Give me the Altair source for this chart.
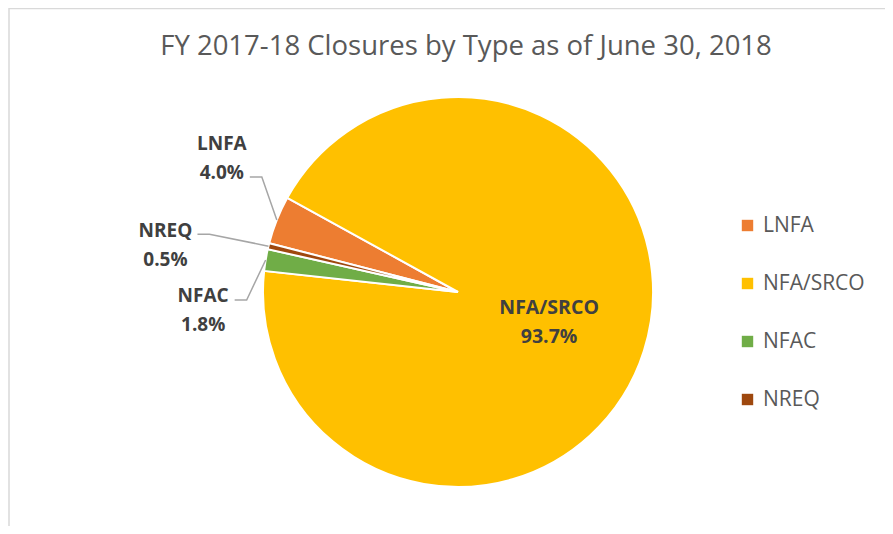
import math
import altair as alt
import pandas as pd

# ---- data ----
categories = ["LNFA", "NFA/SRCO", "NFAC", "NREQ"]
shares = [4.0, 93.7, 1.8, 0.5]
colors = ["#ED7D31", "#FFC000", "#70AD47", "#9E480E"]
title_text = "FY 2017-18 Closures by Type as of June 30, 2018"

# ---- layout ----
W, H = 877, 518
CX, CY, R = 450, 284, 195
START_DEG = 284.5
TEXT_SHIFT = -11
# outside-label leader geometry (elbow offset from arc point, label offset from line start)
outside = {
    "LNFA": {"elbow": (-15, -43), "label": (-28, -21.5)},
    "NREQ": {"elbow": (-59, -12), "label": (-32, 7.5)},
    "NFAC": {"elbow": (-19, 40), "label": (-31.5, 7.5)},
}
inside_r = 0.49

df = pd.DataFrame({"cat": categories, "share": shares, "idx": range(len(categories))})
df["label"] = [f"{c}\n{v:.1f}%" for c, v in zip(categories, shares)]

total = sum(shares)
cum = 0.0
mids = {}
for c, v in zip(categories, shares):
    mids[c] = math.radians(START_DEG + (cum + v / 2) / total * 360)
    cum += v

line_rows, lab_rows, in_rows = [], [], []
for c, lab in zip(categories, df["label"]):
    a = mids[c]
    if c in outside:
        ex, ey = CX + R * math.sin(a), CY - R * math.cos(a)
        bx, by = ex + outside[c]["elbow"][0], ey + outside[c]["elbow"][1]
        sx, sy = bx - 12, by
        for k, (px, py) in enumerate([(sx, sy), (bx, by), (ex, ey)]):
            line_rows.append({"cat": c, "k": k, "px": px, "py": py})
        lab_rows.append({"cat": c, "label": lab,
                         "px": sx + outside[c]["label"][0],
                         "py": sy + outside[c]["label"][1] + TEXT_SHIFT})
    else:
        in_rows.append({"cat": c, "label": lab,
                        "px": CX + inside_r * R * math.sin(a),
                        "py": CY - inside_r * R * math.cos(a) + TEXT_SHIFT - 2})

lines_df = pd.DataFrame(line_rows)
labs_df = pd.DataFrame(lab_rows)
in_df = pd.DataFrame(in_rows)

xs = alt.Scale(domain=[0, W], range=[0, W])
ys = alt.Scale(domain=[0, H], range=[0, H])

a0 = math.radians(START_DEG)
pie = alt.Chart(df).mark_arc(outerRadius=R, stroke="white", strokeWidth=2).encode(
    theta=alt.Theta("share:Q", stack=True, scale=alt.Scale(domain=[0, total], range=[a0, a0 + 2 * math.pi])),
    order=alt.Order("idx:Q"),
    color=alt.Color("cat:N", sort=categories,
                    scale=alt.Scale(domain=categories, range=colors),
                    legend=alt.Legend(title=None, orient="none", legendX=729, legendY=207,
                                      symbolType="square", symbolSize=130, symbolStrokeWidth=0,
                                      labelFont="Open Sans", labelFontSize=21, labelColor="#595959",
                                      labelOffset=5, rowPadding=36, padding=0)),
    x=alt.value(CX), y=alt.value(CY),
)

leaders = alt.Chart(lines_df).mark_line(color="#A6A6A6", strokeWidth=1.5).encode(
    x=alt.X("px:Q", scale=xs, axis=None),
    y=alt.Y("py:Q", scale=ys, axis=None),
    detail="cat:N", order="k:Q",
)

out_labels = alt.Chart(labs_df).mark_text(
    font="Open Sans", fontSize=19, fontWeight="bold", color="#404040",
    lineBreak="\n", lineHeight=29, align="center", baseline="middle",
).encode(x=alt.X("px:Q", scale=xs, axis=None), y=alt.Y("py:Q", scale=ys, axis=None), text="label:N")

in_labels = alt.Chart(in_df).mark_text(
    font="Open Sans", fontSize=19.5, fontWeight="bold", color="#404040",
    lineBreak="\n", lineHeight=29, align="center", baseline="middle",
).encode(x=alt.X("px:Q", scale=xs, axis=None), y=alt.Y("py:Q", scale=ys, axis=None), text="label:N")

title = alt.Chart(pd.DataFrame({"t": [title_text]})).mark_text(
    font="Open Sans", fontSize=27.5, color="#595959", align="center", baseline="alphabetic",
).encode(x=alt.value(458), y=alt.value(47), text="t:N")

border_top = alt.Chart(pd.DataFrame({"a": [0]})).mark_rule(color="#D9D9D9", strokeWidth=1.5).encode(
    x=alt.value(1), x2=alt.value(W), y=alt.value(0.5))
border_left = alt.Chart(pd.DataFrame({"a": [0]})).mark_rule(color="#D9D9D9", strokeWidth=1.5).encode(
    x=alt.value(1), y=alt.value(0), y2=alt.value(H))

chart = alt.layer(border_top, border_left, pie, leaders, out_labels, in_labels, title).properties(
    width=W, height=H, padding=0, autosize=alt.AutoSizeParams(type="none"),
).configure_view(stroke=None)

chart.save("out.html", embed_options={"renderer": "svg", "actions": False})
